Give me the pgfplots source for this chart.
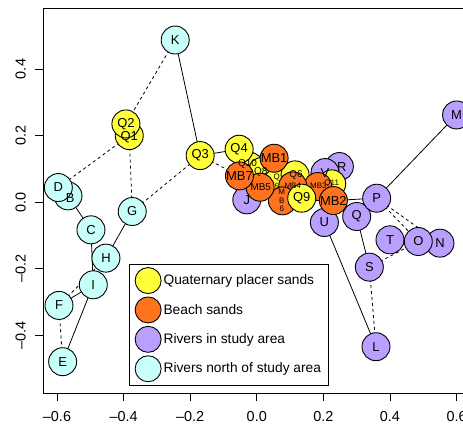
\documentclass[border=0pt]{standalone}
\usepackage{pgfplots}
\pgfplotsset{compat=1.18}
\usepackage{fontspec}
\setmainfont{Liberation Sans}
\definecolor{qyel}{RGB}{255,255,60}
\definecolor{borange}{RGB}{255,115,30}
\definecolor{rpurple}{RGB}{185,160,255}
\definecolor{ncyan}{RGB}{200,255,250}
\begin{document}
\begin{tikzpicture}
\path[use as bounding box] (0,0) rectangle (463bp,425bp);
\clip (0,0) rectangle (463bp,425bp);
\begin{axis}[
  at={(43bp,32bp)}, anchor=south west,
  x=333bp, y=333bp,
  xmin=-0.642, xmax=0.66, ymin=-0.573, ymax=0.583,
  axis line style={line width=0.8bp},
  tick align=outside, major tick length=8bp,
  tick style={line width=0.8bp, black},
  xtick pos=bottom, ytick pos=left,
  xtick={-0.6,-0.4,-0.2,0,0.2,0.4,0.6},
  xticklabels={–0.6,–0.4,–0.2,0.0,0.2,0.4,0.6},
  ytick={-0.4,-0.2,0,0.2,0.4},
  yticklabels={–0.4,–0.2,0.0,0.2,0.4},
  ticklabel style={font=\fontsize{14.5}{16}\selectfont},
  xticklabel style={anchor=north, inner sep=0pt},
  yticklabel style={rotate=90, anchor=south, inner sep=0pt},
  xticklabel shift=10.5bp, yticklabel shift=9bp,
  legend style={at={(axis description cs:0.199,0.0192)}, anchor=south west,
    draw=black, line width=0.8bp, fill=white, inner xsep=5bp, inner ysep=3bp,
    row sep=2.5bp, font=\fontsize{13.8}{15}\selectfont},
  legend cell align=left,
  legend image code/.code={\draw[#1, draw=black, line width=0.9bp] (0,0) circle[radius=13bp];},
]
% solid links
\addplot[black, line width=0.8bp, forget plot] coordinates {(-0.245,0.487) (-0.170,0.140)};
\addplot[black, line width=0.8bp, forget plot] coordinates {(-0.170,0.140) (-0.053,0.159)};
\addplot[black, line width=0.8bp, forget plot] coordinates {(-0.567,0.019) (-0.498,-0.083)};
\addplot[black, line width=0.8bp, forget plot] coordinates {(-0.498,-0.083) (-0.491,-0.248)};
\addplot[black, line width=0.8bp, forget plot] coordinates {(-0.374,-0.028) (-0.453,-0.168)};
\addplot[black, line width=0.8bp, forget plot] coordinates {(-0.491,-0.248) (-0.583,-0.479)};
\addplot[black, line width=0.8bp, forget plot] coordinates {(-0.594,-0.310) (-0.491,-0.248)};
\addplot[black, line width=0.8bp, forget plot] coordinates {(0.360,0.012) (0.600,0.262)};
\addplot[black, line width=0.8bp, forget plot] coordinates {(0.360,0.012) (0.230,0.005)};
\addplot[black, line width=0.8bp, forget plot] coordinates {(0.203,-0.061) (0.358,-0.434)};
\addplot[black, line width=0.8bp, forget plot] coordinates {(0.300,-0.043) (0.338,-0.195)};
% dashed links
\addplot[black, line width=0.8bp, dash pattern=on 3bp off 3bp, forget plot] coordinates {(-0.245,0.487) (-0.393,0.235)};
\addplot[black, line width=0.8bp, dash pattern=on 3bp off 3bp, forget plot] coordinates {(-0.383,0.200) (-0.596,0.044)};
\addplot[black, line width=0.8bp, dash pattern=on 3bp off 3bp, forget plot] coordinates {(-0.383,0.200) (-0.374,-0.028)};
\addplot[black, line width=0.8bp, dash pattern=on 3bp off 3bp, forget plot] coordinates {(-0.374,-0.028) (-0.170,0.140)};
\addplot[black, line width=0.8bp, dash pattern=on 3bp off 3bp, forget plot] coordinates {(-0.170,0.140) (-0.052,0.079)};
\addplot[black, line width=0.8bp, dash pattern=on 3bp off 3bp, forget plot] coordinates {(-0.594,-0.310) (-0.453,-0.168)};
\addplot[black, line width=0.8bp, dash pattern=on 3bp off 3bp, forget plot] coordinates {(-0.594,-0.310) (-0.583,-0.479)};
\addplot[black, line width=0.8bp, dash pattern=on 3bp off 3bp, forget plot] coordinates {(0.360,0.012) (0.485,-0.118)};
\addplot[black, line width=0.8bp, dash pattern=on 3bp off 3bp, forget plot] coordinates {(0.360,0.012) (0.550,-0.123)};
\addplot[black, line width=0.8bp, dash pattern=on 3bp off 3bp, forget plot] coordinates {(0.338,-0.195) (0.485,-0.118)};
\addplot[black, line width=0.8bp, dash pattern=on 3bp off 3bp, forget plot] coordinates {(0.338,-0.195) (0.358,-0.434)};
% samples
\addplot[scatter, only marks, forget plot, mark=*, mark size=14bp,
  scatter src=explicit symbolic,
  scatter/classes={
    qp={mark=*, fill=qyel, draw=black, line width=0.9bp},
    bs={mark=*, fill=borange, draw=black, line width=0.9bp},
    ri={mark=*, fill=rpurple, draw=black, line width=0.9bp},
    rn={mark=*, fill=ncyan, draw=black, line width=0.9bp}}]
coordinates {
  (-0.567,0.019) [rn] (-0.596,0.044) [rn] (-0.498,-0.083) [rn] (-0.374,-0.028) [rn]
  (-0.453,-0.168) [rn] (-0.491,-0.248) [rn] (-0.594,-0.310) [rn] (-0.583,-0.479) [rn]
  (-0.245,0.487) [rn]
  (-0.030,0.007) [ri] (0.248,0.107) [ri] (0.205,0.089) [ri] (0.203,-0.061) [ri]
  (0.300,-0.043) [ri] (0.360,0.012) [ri] (0.600,0.262) [ri] (0.400,-0.113) [ri]
  (0.550,-0.123) [ri] (0.485,-0.118) [ri] (0.338,-0.195) [ri] (0.358,-0.434) [ri]
  (-0.383,0.200) [qp] (-0.393,0.235) [qp] (-0.170,0.140) [qp] (-0.022,0.108) [qp]
  (-0.053,0.159) [qp] (0.015,0.092) [qp] (0.062,0.059) [qp] (0.115,0.082) [qp]
  (0.225,0.055) [qp]
  (0.183,0.047) [bs] (0.108,0.049) [bs] (0.077,0.004) [bs] (0.010,0.045) [bs]
  (-0.052,0.079) [bs] (0.052,0.132) [bs] (0.230,0.005) [bs]
  (0.135,0.012) [qp]
};
% labels
\addplot[only marks, mark=*, mark size=0pt, mark options={draw=none, fill=none}, forget plot,
  nodes near coords, point meta=explicit symbolic, nodes near coords align=center,
  every node near coord/.append style={font=\fontsize{13}{14}\selectfont, inner sep=0pt, black}]
coordinates {
  (-0.560,0.012) [B] (-0.596,0.044) [D] (-0.498,-0.083) [C] (-0.374,-0.028) [G]
  (-0.453,-0.168) [H] (-0.491,-0.248) [I] (-0.594,-0.310) [F] (-0.583,-0.479) [E]
  (-0.245,0.487) [K]
  (-0.030,0.007) [J] (0.255,0.107) [R] (0.205,0.089) [V] (0.203,-0.061) [U]
  (0.300,-0.043) [Q] (0.360,0.012) [P] (0.600,0.262) [M] (0.400,-0.113) [T]
  (0.550,-0.123) [N] (0.485,-0.118) [O] (0.338,-0.195) [S] (0.358,-0.434) [L]
  (-0.383,0.195) [Q1] (-0.393,0.235) [Q2] (-0.170,0.140) [Q3] (-0.053,0.159) [Q4]
  (0.135,0.012) [Q9] (-0.052,0.079) [MB7] (0.052,0.132) [MB1] (0.230,0.005) [MB2]
};
\addplot[only marks, mark=*, mark size=0pt, mark options={draw=none, fill=none}, forget plot,
  nodes near coords, point meta=explicit symbolic, nodes near coords align=center,
  every node near coord/.append style={font=\fontsize{10}{11}\selectfont, inner sep=0pt, black}]
coordinates {
  (-0.028,0.115) [Q10] (0.012,0.092) [Q8] (0.118,0.082) [Q6] (0.012,0.045) [MB5]
};
\addplot[only marks, mark=*, mark size=0pt, mark options={draw=none, fill=none}, forget plot,
  nodes near coords, point meta=explicit symbolic, nodes near coords align=center,
  every node near coord/.append style={font=\fontsize{8}{9}\selectfont, inner sep=0pt, black}]
coordinates {
  (0.225,0.057) [Q11] (0.108,0.050) [MB4] (0.185,0.050) [MB3]
  (0.060,0.074) [Q] (0.060,0.047) [5]
  (0.075,0.032) [M] (0.075,0.004) [B] (0.075,-0.020) [6]
};
% legend
\addlegendimage{fill=qyel}
\addlegendentry{Quaternary placer sands}
\addlegendimage{fill=borange}
\addlegendentry{Beach sands}
\addlegendimage{fill=rpurple}
\addlegendentry{Rivers in study area}
\addlegendimage{fill=ncyan}
\addlegendentry{Rivers north of study area}
\end{axis}
\end{tikzpicture}
\end{document}
